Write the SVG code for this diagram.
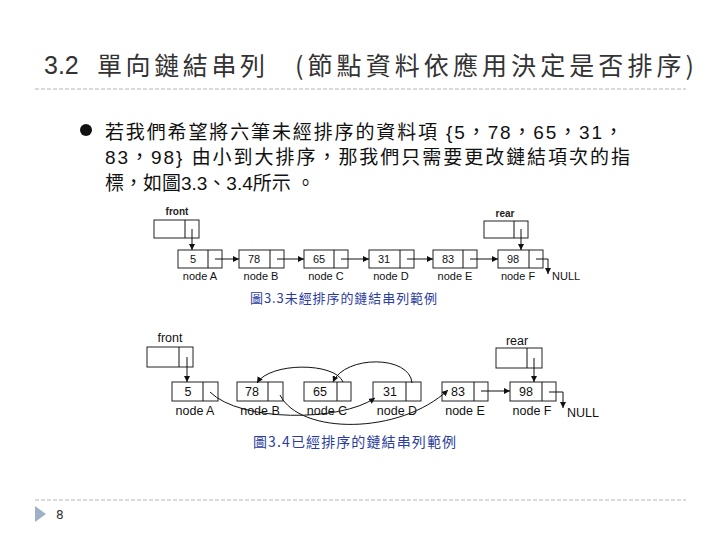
<svg xmlns="http://www.w3.org/2000/svg" width="720" height="540" viewBox="0 0 720 540">
<defs>
<style>
.box{fill:#fff;stroke:#222;stroke-width:1}
.ln{fill:none;stroke:#111;stroke-width:1}
.t1{font-family:"Liberation Sans","Noto Sans CJK TC",sans-serif;font-size:11px;fill:#111;text-anchor:middle}
.t2{font-family:"Liberation Sans","Noto Sans CJK TC",sans-serif;font-size:12.5px;fill:#111;text-anchor:middle}
.cap{font-family:"Noto Sans CJK TC",sans-serif;fill:#2b3c9e}
.body{font-family:"Liberation Sans","Noto Sans CJK TC",sans-serif;font-size:19px;fill:#111}
.dash{stroke:#b4b4b4;stroke-width:1;stroke-dasharray:4,2}
</style>
<marker id="ah" viewBox="0 0 6 6" refX="6" refY="3" markerWidth="6" markerHeight="6" markerUnits="userSpaceOnUse" orient="auto">
<path d="M0,0 L6,3 L0,6 z" fill="#111"/>
</marker>
</defs>
<rect width="720" height="540" fill="#fff"/>

<g id="title">
<text x="44" y="74" font-family="Liberation Sans,sans-serif" font-size="25" fill="#333">3.2</text>
<text x="97" y="75" font-family="Noto Sans CJK TC,sans-serif" font-size="25" fill="#333" textLength="168" lengthAdjust="spacing">單向鏈結串列</text>
<text x="295" y="75" font-family="Noto Sans CJK TC,sans-serif" font-size="25" fill="#333" textLength="399" lengthAdjust="spacing">(節點資料依應用決定是否排序)</text>
</g>
<line class="dash" x1="35" y1="89" x2="686" y2="89"/>

<g id="bullet-text">
<circle cx="86" cy="130" r="6" fill="#111"/>
<text class="body" x="105" y="139" textLength="518" lengthAdjust="spacing">若我們希望將六筆未經排序的資料項 {5，78，65，31，</text>
<text class="body" x="105" y="164" textLength="525" lengthAdjust="spacing">83，98} 由小到大排序，那我們只需要更改鏈結項次的指</text>
<text class="body" x="105" y="190" textLength="210" lengthAdjust="spacing">標，如圖3.3、3.4所示 。</text>
</g>

<!-- Figure 3.3 -->
<g id="f33-front">
<text x="177" y="215" font-family="Liberation Sans,sans-serif" font-size="10" font-weight="bold" fill="#222" text-anchor="middle">front</text>
<rect class="box" x="154" y="220" width="45" height="18"/>
<line class="ln" x1="185" y1="220" x2="185" y2="238"/>
</g>
<g id="f33-rear">
<text x="505" y="217" font-family="Liberation Sans,sans-serif" font-size="10" font-weight="bold" fill="#222" text-anchor="middle">rear</text>
<rect class="box" x="484" y="221" width="44" height="17"/>
<line class="ln" x1="514" y1="221" x2="514" y2="238"/>
</g>
<g id="f33-nodeA">
<rect class="box" x="178" y="250" width="44" height="18"/>
<line class="ln" x1="208" y1="250" x2="208" y2="268"/>
<text class="t1" x="193" y="263">5</text>
<text class="t1" x="200" y="280">node A</text>
</g>
<g id="f33-nodeB">
<rect class="box" x="239" y="250" width="45" height="18"/>
<line class="ln" x1="270" y1="250" x2="270" y2="268"/>
<text class="t1" x="254" y="263">78</text>
<text class="t1" x="261" y="280">node B</text>
</g>
<g id="f33-nodeC">
<rect class="box" x="304" y="250" width="44" height="18"/>
<line class="ln" x1="334" y1="250" x2="334" y2="268"/>
<text class="t1" x="319" y="263">65</text>
<text class="t1" x="326" y="280">node C</text>
</g>
<g id="f33-nodeD">
<rect class="box" x="369" y="250" width="45" height="18"/>
<line class="ln" x1="400" y1="250" x2="400" y2="268"/>
<text class="t1" x="384" y="263">31</text>
<text class="t1" x="391" y="280">node D</text>
</g>
<g id="f33-nodeE">
<rect class="box" x="433" y="250" width="44" height="18"/>
<line class="ln" x1="463" y1="250" x2="463" y2="268"/>
<text class="t1" x="448" y="263">83</text>
<text class="t1" x="455" y="280">node E</text>
</g>
<g id="f33-nodeF">
<rect class="box" x="498" y="250" width="45" height="18"/>
<line class="ln" x1="529" y1="250" x2="529" y2="268"/>
<text class="t1" x="513" y="263">98</text>
<text class="t1" x="518" y="280">node F</text>
</g>
<g id="f33-null">
<text x="552" y="280" font-family="Liberation Sans,sans-serif" font-size="11" fill="#111">NULL</text>
</g>
<g id="f33-connectors">
<path class="ln" d="M192,229 V250" marker-end="url(#ah)"/>
<path class="ln" d="M521,229 V250" marker-end="url(#ah)"/>
<path class="ln" d="M215,259 H239" marker-end="url(#ah)"/>
<path class="ln" d="M277,259 H304" marker-end="url(#ah)"/>
<path class="ln" d="M341,259 H369" marker-end="url(#ah)"/>
<path class="ln" d="M407,259 H433" marker-end="url(#ah)"/>
<path class="ln" d="M470,259 H498" marker-end="url(#ah)"/>
<path class="ln" d="M536,259 H548 V274" marker-end="url(#ah)"/>
</g>
<text class="cap" x="250" y="303" font-size="13" textLength="187" lengthAdjust="spacing">圖3.3未經排序的鏈結串列範例</text>

<!-- Figure 3.4 -->
<g id="f34-front">
<text class="t2" x="170" y="342">front</text>
<rect class="box" x="147" y="347" width="46" height="20"/>
<line class="ln" x1="179" y1="347" x2="179" y2="367"/>
</g>
<g id="f34-rear">
<text class="t2" x="517" y="345">rear</text>
<rect class="box" x="496" y="348" width="46" height="20"/>
<line class="ln" x1="527" y1="348" x2="527" y2="368"/>
</g>
<g id="f34-nodeA">
<rect class="box" x="172" y="382" width="46" height="19"/>
<line class="ln" x1="203" y1="382" x2="203" y2="401"/>
<text class="t2" x="188" y="396">5</text>
<text class="t2" x="195" y="415">node A</text>
</g>
<g id="f34-nodeB">
<rect class="box" x="237" y="382" width="46" height="19"/>
<line class="ln" x1="268" y1="382" x2="268" y2="401"/>
<text class="t2" x="252" y="396">78</text>
<text class="t2" x="260" y="415">node B</text>
</g>
<g id="f34-nodeC">
<rect class="box" x="304" y="382" width="47" height="19"/>
<line class="ln" x1="337" y1="382" x2="337" y2="401"/>
<text class="t2" x="320" y="396">65</text>
<text class="t2" x="327" y="415">node C</text>
</g>
<g id="f34-nodeD">
<rect class="box" x="373" y="382" width="48" height="19"/>
<line class="ln" x1="406" y1="382" x2="406" y2="401"/>
<text class="t2" x="390" y="396">31</text>
<text class="t2" x="397" y="415">node D</text>
</g>
<g id="f34-nodeE">
<rect class="box" x="442" y="382" width="46" height="19"/>
<line class="ln" x1="474" y1="382" x2="474" y2="401"/>
<text class="t2" x="458" y="396">83</text>
<text class="t2" x="465" y="415">node E</text>
</g>
<g id="f34-nodeF">
<rect class="box" x="510" y="382" width="46" height="19"/>
<line class="ln" x1="542" y1="382" x2="542" y2="401"/>
<text class="t2" x="526" y="396">98</text>
<text class="t2" x="532" y="415">node F</text>
</g>
<g id="f34-null">
<text x="567" y="417" font-family="Liberation Sans,sans-serif" font-size="12.5" fill="#111">NULL</text>
</g>
<g id="f34-connectors">
<path class="ln" d="M187,357 V382" marker-end="url(#ah)"/>
<path class="ln" d="M534,358 V382" marker-end="url(#ah)"/>
<path class="ln" d="M481,391 H510" marker-end="url(#ah)"/>
<path class="ln" d="M549,392 H563 V408" marker-end="url(#ah)"/>
<path class="ln" d="M210,392 C240,422 340,422 375,398" marker-end="url(#ah)"/>
<path class="ln" d="M412,383 C410,355 345,355 333,382" marker-end="url(#ah)"/>
<path class="ln" d="M343,382 C335,362 270,362 257,383" marker-end="url(#ah)"/>
<path class="ln" d="M280,395 C300,435 400,435 448,390" marker-end="url(#ah)"/>
</g>
<text class="cap" x="253" y="447" font-size="14" textLength="203" lengthAdjust="spacing">圖3.4已經排序的鏈結串列範例</text>

<line class="dash" x1="35" y1="500" x2="686" y2="500"/>
<g id="footer">
<path d="M35,506 L46,514 L35,522 z" fill="#9fb1c7"/>
<text x="56" y="519" font-family="DejaVu Sans,sans-serif" font-size="12" fill="#333">8</text>
</g>
</svg>
